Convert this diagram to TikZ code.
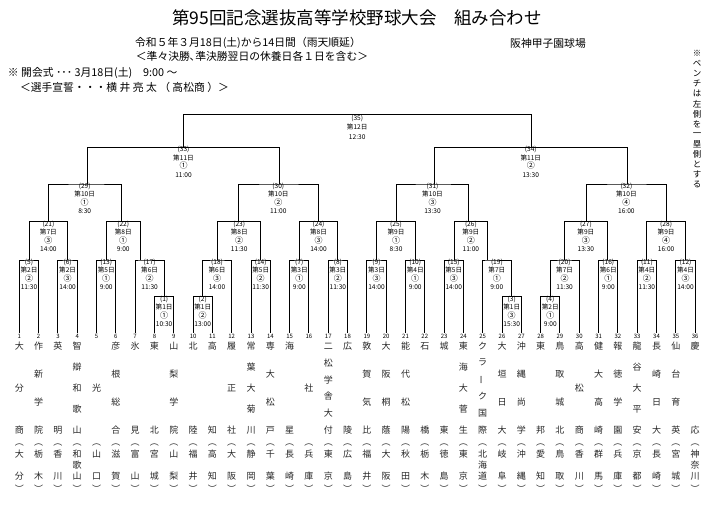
\documentclass[tikz,border=0pt]{standalone}
\usepackage{fontspec}
\setmainfont{Noto Sans CJK JP}
\newcommand\gameorder[1]{{\fontsize{8}{8.5}\selectfont #1}}

\begin{document}
\begin{tikzpicture}[x=1pt, y=-1pt, line width=1pt,
  every node/.style={inner sep=0pt, outer sep=0pt},
  game/.style={font=\fontsize{6.6}{8.5}\selectfont, align=center, anchor=north},
  tnum/.style={font=\fontsize{6}{7}\selectfont, inner sep=1pt},
  tchar/.style={font=\fontsize{9}{9}\selectfont, text=black!85},
  head/.style={font=\fontsize{10.8}{12}\selectfont}]
\useasboundingbox (0,0) rectangle (723,507);

\node[font=\fontsize{17.5}{20}\selectfont] (title) at (357,18) {第95回記念選抜高等学校野球大会　組み合わせ};
\node[head] (period) at (248,43) {令和５年３月18日(土)から14日間（雨天順延）};
\node[head] (stadium) at (548,43) {阪神甲子園球場};
\node[head] (rest) at (252,56) {＜準々決勝､準決勝翌日の休養日各１日を含む＞};
\node[head, anchor=west] (opening) at (8,73) {※ 開会式 ･･･ 3月18日(土)　9:00 ～};
\node[head, anchor=west] (oath) at (20,87) {＜選手宣誓・・・横 井 亮 太 （ 高松商 ）＞};

\foreach \c [count=\k] in {※,ベ,ン,チ,は,左,側,を,一,塁,側,と,す,る}
  \node[font=\fontsize{8.5}{9}\selectfont] (bench\k) at (697,{53+(\k-1)*10.15}) {\c};

% teams: number / length / name / length / prefecture
\foreach \i/\nc/\nm/\np/\pf in {
  1/3/{大,分,商}/2/{大,分}, 2/4/{作,新,学,院}/2/{栃,木}, 3/2/{英,明}/2/{香,川},
  4/5/{智,辯,和,歌,山}/3/{和,歌,山}, 5/1/{光}/2/{山,口}, 6/4/{彦,根,総,合}/2/{滋,賀},
  7/2/{氷,見}/2/{富,山}, 8/2/{東,北}/2/{宮,城}, 9/4/{山,梨,学,院}/2/{山,梨},
  10/2/{北,陸}/2/{福,井}, 11/2/{高,知}/2/{高,知}, 12/3/{履,正,社}/2/{大,阪},
  13/5/{常,葉,大,菊,川}/2/{静,岡}, 14/4/{専,大,松,戸}/2/{千,葉}, 15/2/{海,星}/2/{長,崎},
  16/1/{社}/2/{兵,庫}, 17/6/{二,松,学,舎,大,付}/2/{東,京}, 18/2/{広,陵}/2/{広,島},
  19/4/{敦,賀,気,比}/2/{福,井}, 20/4/{大,阪,桐,蔭}/2/{大,阪}, 21/4/{能,代,松,陽}/2/{秋,田},
  22/2/{石,橋}/2/{栃,木}, 23/2/{城,東}/2/{徳,島}, 24/5/{東,海,大,菅,生}/2/{東,京},
  25/6/{ク,ラ,\rotatebox{90}{ー},ク,国,際}/3/{北,海,道}, 26/4/{大,垣,日,大}/2/{岐,阜},
  27/4/{沖,縄,尚,学}/2/{沖,縄}, 28/2/{東,邦}/2/{愛,知}, 29/4/{鳥,取,城,北}/2/{鳥,取},
  30/3/{高,松,商}/2/{香,川}, 31/4/{健,大,高,崎}/2/{群,馬}, 32/4/{報,徳,学,園}/2/{兵,庫},
  33/5/{龍,谷,大,平,安}/2/{京,都}, 34/4/{長,崎,日,大}/2/{長,崎}, 35/4/{仙,台,育,英}/2/{宮,城},
  36/2/{慶,応}/3/{神,奈,川}}{
  \pgfmathsetmacro\xx{19.3+(\i-1)*19.31}
  \node[tnum] (t\i) at (\xx,336) {\i};
  \foreach \c [count=\k] in \nm {
    \pgfmathsetmacro\yy{388-42*(\nc>1)+(\k-1)*84/max(\nc-1,1)}
    \node[tchar] (c\i-\k) at (\xx,\yy) {\c};
  }
  \node[tchar] (po\i) at (\xx,445) {︵};
  \foreach \c [count=\k] in \pf {
    \pgfmathsetmacro\yy{454+(\k-1)*22/(\np-1)}
    \node[tchar] (p\i-\k) at (\xx,\yy) {\c};
  }
  \node[tchar] (pc\i) at (\xx,489) {︶};
}

\coordinate (g1) at (164,296.7);
\coordinate (g2) at (202.3,296.7);
\coordinate (g3) at (511,296.7);
\coordinate (g4) at (550,296.7);
\coordinate (g5) at (29,260);
\coordinate (g6) at (67.7,260);
\coordinate (g7) at (299.3,260);
\coordinate (g8) at (337.6,260);
\coordinate (g9) at (376.6,260);
\coordinate (g10) at (415.3,260);
\coordinate (g11) at (646.8,260);
\coordinate (g12) at (685.3,260);
\coordinate (g13) at (106.3,260);
\coordinate (g14) at (260.7,260);
\coordinate (g15) at (454.5,260);
\coordinate (g16) at (607.5,260);
\coordinate (g17) at (140,260);
\coordinate (g18) at (217.7,260);
\coordinate (g19) at (487.3,260);
\coordinate (g20) at (564.3,260);
\coordinate (g21) at (48.3,221.7);
\coordinate (g22) at (121,221.7);
\coordinate (g23) at (238.3,221.7);
\coordinate (g24) at (318.3,221.7);
\coordinate (g25) at (396.7,221.7);
\coordinate (g26) at (468.3,221.7);
\coordinate (g27) at (586.7,221.7);
\coordinate (g28) at (666,221.7);
\coordinate (g29) at (87.7,184);
\coordinate (g30) at (279.3,184);
\coordinate (g31) at (434.3,184);
\coordinate (g32) at (627.3,184);
\coordinate (g33) at (183.3,147.3);
\coordinate (g34) at (531,147.3);
\coordinate (g35) at (357.2,114.3);

\draw (t8.north) |- (g1) -| (t9.north);
\draw (t10.north) |- (g2) -| (t11.north);
\draw (t26.north) |- (g3) -| (t27.north);
\draw (t28.north) |- (g4) -| (t29.north);
\draw (t1.north) |- (g5) -| (t2.north);
\draw (t3.north) |- (g6) -| (t4.north);
\draw (t15.north) |- (g7) -| (t16.north);
\draw (t17.north) |- (g8) -| (t18.north);
\draw (t19.north) |- (g9) -| (t20.north);
\draw (t21.north) |- (g10) -| (t22.north);
\draw (t33.north) |- (g11) -| (t34.north);
\draw (t35.north) |- (g12) -| (t36.north);
\draw (t5.north) |- (g13) -| (t6.north);
\draw (t13.north) |- (g14) -| (t14.north);
\draw (t23.north) |- (g15) -| (t24.north);
\draw (t31.north) |- (g16) -| (t32.north);
\draw (t7.north) |- (g17) -| (g1);
\draw (g2) |- (g18) -| (t12.north);
\draw (t25.north) |- (g19) -| (g3);
\draw (g4) |- (g20) -| (t30.north);
\draw (g5) |- (g21) -| (g6);
\draw (g13) |- (g22) -| (g17);
\draw (g18) |- (g23) -| (g14);
\draw (g7) |- (g24) -| (g8);
\draw (g9) |- (g25) -| (g10);
\draw (g15) |- (g26) -| (g19);
\draw (g20) |- (g27) -| (g16);
\draw (g11) |- (g28) -| (g12);
\draw (g21) |- (g29) -| (g22);
\draw (g23) |- (g30) -| (g24);
\draw (g25) |- (g31) -| (g26);
\draw (g27) |- (g32) -| (g28);
\draw (g29) |- (g33) -| (g30);
\draw (g31) |- (g34) -| (g32);
\draw (g33) |- (g35) -| (g34);

% game labels
\node[game] (l1) at (164.1,295.7) {(1)\\第1日\\\gameorder{①}\\10:30};
\node[game] (l2) at (202.7,295.7) {(2)\\第1日\\\gameorder{②}\\13:00};
\node[game] (l3) at (511.7,295.7) {(3)\\第1日\\\gameorder{③}\\15:30};
\node[game] (l4) at (550.3,295.7) {(4)\\第2日\\\gameorder{①}\\9:00};
\node[game] (l5) at (29,259) {(5)\\第2日\\\gameorder{②}\\11:30};
\node[game] (l6) at (67.6,259) {(6)\\第2日\\\gameorder{③}\\14:00};
\node[game] (l7) at (299.3,259) {(7)\\第3日\\\gameorder{①}\\9:00};
\node[game] (l8) at (337.9,259) {(8)\\第3日\\\gameorder{②}\\11:30};
\node[game] (l9) at (376.5,259) {(9)\\第3日\\\gameorder{③}\\14:00};
\node[game] (l10) at (415.2,259) {(10)\\第4日\\\gameorder{①}\\9:00};
\node[game] (l11) at (646.9,259) {(11)\\第4日\\\gameorder{②}\\11:30};
\node[game] (l12) at (685.5,259) {(12)\\第4日\\\gameorder{③}\\14:00};
\node[game] (l13) at (106.2,259) {(13)\\第5日\\\gameorder{①}\\9:00};
\node[game] (l14) at (260.7,259) {(14)\\第5日\\\gameorder{②}\\11:30};
\node[game] (l15) at (453.8,259) {(15)\\第5日\\\gameorder{③}\\14:00};
\node[game] (l16) at (608.3,259) {(16)\\第6日\\\gameorder{①}\\9:00};
\node[game] (l17) at (149.6,259) {(17)\\第6日\\\gameorder{②}\\11:30};
\node[game] (l18) at (217,259) {(18)\\第6日\\\gameorder{③}\\14:00};
\node[game] (l19) at (496.9,259) {(19)\\第7日\\\gameorder{①}\\9:00};
\node[game] (l20) at (564.6,259) {(20)\\第7日\\\gameorder{②}\\11:30};
\node[game] (l21) at (48.4,220.7) {(21)\\第7日\\\gameorder{③}\\14:00};
\node[game] (l22) at (123.2,220.7) {(22)\\第8日\\\gameorder{①}\\9:00};
\node[game] (l23) at (239.2,220.7) {(23)\\第8日\\\gameorder{②}\\11:30};
\node[game] (l24) at (318.5,220.7) {(24)\\第8日\\\gameorder{③}\\14:00};
\node[game] (l25) at (396,220.7) {(25)\\第9日\\\gameorder{①}\\8:30};
\node[game] (l26) at (470.9,220.7) {(26)\\第9日\\\gameorder{②}\\11:00};
\node[game] (l27) at (585.9,220.7) {(27)\\第9日\\\gameorder{③}\\13:30};
\node[game] (l28) at (666.1,220.7) {(28)\\第9日\\\gameorder{④}\\16:00};
\node[game] (l29) at (84.7,183) {(29)\\第10日\\\gameorder{①}\\8:30};
\node[game] (l30) at (278.3,183) {(30)\\第10日\\\gameorder{②}\\11:00};
\node[game] (l31) at (432.5,183) {(31)\\第10日\\\gameorder{③}\\13:30};
\node[game] (l32) at (626.4,183) {(32)\\第10日\\\gameorder{④}\\16:00};
\node[game] (l33) at (183.5,146.3) {(33)\\第11日\\\gameorder{①}\\11:00};
\node[game] (l34) at (530.8,146.3) {(34)\\第11日\\\gameorder{②}\\13:30};
\node[game, font=\fontsize{6.6}{9.2}\selectfont] (l35) at (357.2,115.3) {(35)\\第12日\\12:30};
\end{tikzpicture}
\end{document}
